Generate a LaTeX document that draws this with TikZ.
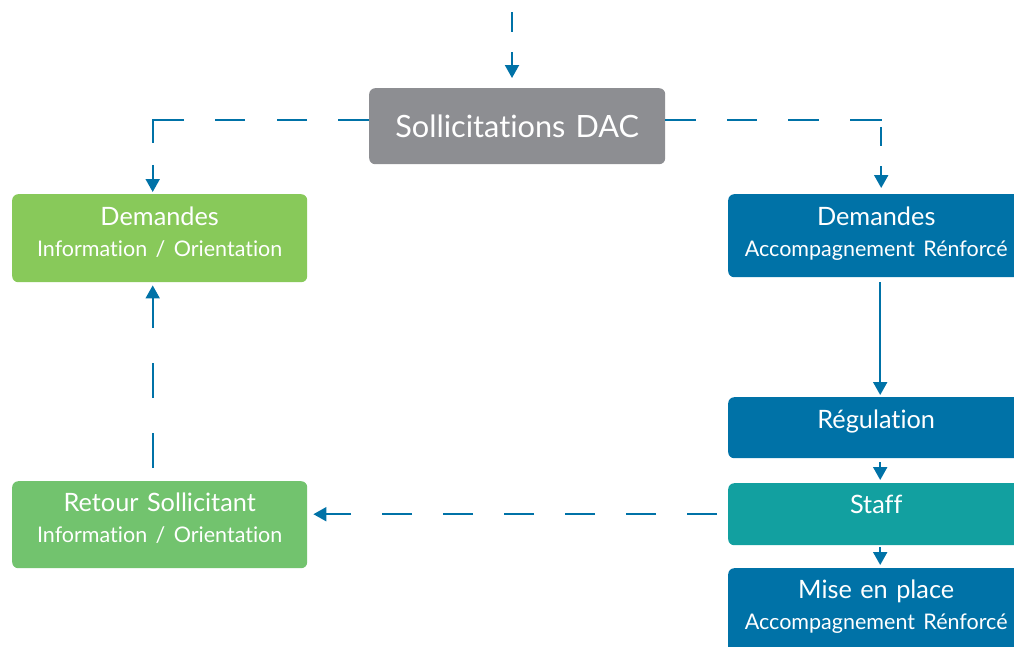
\documentclass[tikz,border=0pt]{standalone}
\usepackage{fontspec}
\setmainfont{Lato}[Ligatures=NoCommon]
\usetikzlibrary{arrows.meta}

\definecolor{dacgrey}{RGB}{141,142,146}
\definecolor{dacblue}{RGB}{0,114,167}
\definecolor{dacteal}{RGB}{18,160,160}
\definecolor{dacgreen}{RGB}{136,201,90}
\definecolor{retgreen}{RGB}{114,195,110}

\newcommand{\subline}[1]{{\fontsize{21.5}{31.5}\selectfont #1}}

\tikzset{
    pil/.style={ -{Triangle[length=13pt,width=14pt]}, line width=2pt, draw=dacblue},
    dasharrow/.style={ pil, dash pattern=on 30pt off 31pt},
    %Define style for boxes
    box/.style={ anchor=north west, rounded corners=6pt, text=white, align=center, inner sep=0pt,
                 font=\fontsize{25.3}{31.5}\selectfont, text height=31pt},
  }

\begin{document}
\begin{tikzpicture}[x=1pt, y=-1pt]
\path[use as bounding box, clip] (0,0) rectangle (1014,646);

% entry box
  \node[box, fill=dacgrey, text width=296pt, text height=49pt, text depth=27pt,
        font=\fontsize{30.7}{40}\selectfont] (sol) at (369,88) {Sollicitations DAC};
  \coordinate (entry) at (512,12);
  \draw[pil, dash pattern=on 20pt off 20pt, shorten >=10pt] (entry) -- (entry |- sol.north);

% left column
  \node[box, fill=dacgreen, text width=295pt, text depth=57pt] (demIO) at (12,194)
       {Demandes\\\subline{Information / Orientation}};
  \node[box, fill=retgreen, text width=295pt, text height=30pt, text depth=57pt] (retour) at (12,481)
       {Retour Sollicitant\\\subline{Information / Orientation}};

% right column
  \node[box, fill=dacblue, text width=296pt, text depth=52pt] (demAR) at (728,194)
       {Demandes\\\subline{Accompagnement Rénforcé}};
  \node[box, fill=dacblue, text width=296pt, text depth=30pt] (reg) at (728,397) {Régulation};
  \node[box, fill=dacteal, text width=296pt, text height=30pt, text depth=32pt] (staff) at (728,483) {Staff};
  \node[box, fill=dacblue, text width=296pt, text height=30pt, text depth=100pt] (mise) at (728,568)
       {Mise en place\\\subline{Accompagnement Rénforcé}};

% dispatch of the requests
  \draw[pil, dash pattern=on 31pt off 31pt on 30pt off 32pt on 30pt off 31pt on 54pt off 22pt on 60pt,
        shorten >=2pt] ([yshift=6pt]sol.west) -| ([xshift=-7pt]demIO.north);
  \draw[pil, dash pattern=on 31pt off 31pt on 30pt off 31pt on 31pt off 31pt on 31pt off 7pt on 19pt off 20pt on 60pt,
        shorten >=6pt] ([yshift=6pt]sol.east) -| ([xshift=5pt]demAR.north);

% reinforced support chain
  \draw[pil, shorten <=5pt, shorten >=2pt] ([xshift=4pt]demAR.south) -- ([xshift=4pt]reg.north);
  \draw[pil, shorten <=4pt, shorten >=3pt] ([xshift=4pt]reg.south) -- ([xshift=4pt]staff.north);
  \draw[pil, shorten <=2pt, shorten >=3pt] ([xshift=4pt]staff.south) -- ([xshift=4pt]mise.north);

% back to the requester
  \draw[dasharrow, shorten <=11pt, shorten >=6pt] (staff.west) -- (staff.west -| retour.east);
  \draw[pil, dash pattern=on 35pt off 35pt, shorten <=13pt, shorten >=3pt]
       ([xshift=-7pt]retour.north) -- ([xshift=-7pt]demIO.south);

\end{tikzpicture}
\end{document}
